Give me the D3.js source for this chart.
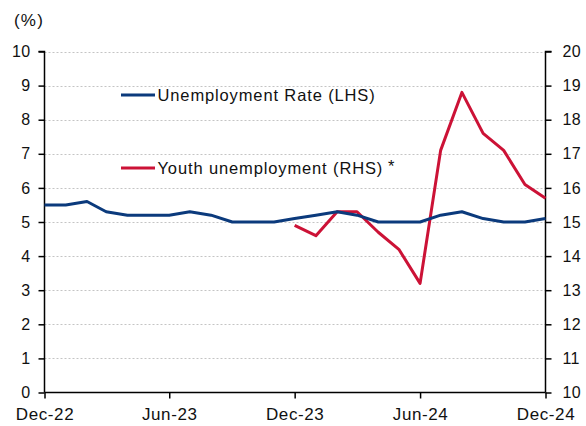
<!DOCTYPE html>
<html>
<head>
<meta charset="utf-8">
<script src="https://cdn.jsdelivr.net/npm/d3@7"></script>
<style>
  body { margin: 0; background: #fff; }
  svg { display: block; font-family: "Liberation Sans", Arial, sans-serif; }
</style>
</head>
<body>
<svg id="chart" width="586" height="426"></svg>
<script>
// Monthly series, Dec-22 through Dec-24
const months = ["2022-12","2023-01","2023-02","2023-03","2023-04","2023-05","2023-06",
  "2023-07","2023-08","2023-09","2023-10","2023-11","2023-12",
  "2024-01","2024-02","2024-03","2024-04","2024-05","2024-06",
  "2024-07","2024-08","2024-09","2024-10","2024-11","2024-12"];
const unemploymentRate = [5.5,5.5,5.6,5.3,5.2,5.2,5.2,5.3,5.2,5.0,5.0,5.0,5.1,
  5.2,5.3,5.2,5.0,5.0,5.0,5.2,5.3,5.1,5.0,5.0,5.1];
// Youth series starts Dec-23
const youthMonths = months.slice(12);
const youthUnemployment = [14.9,14.6,15.3,15.3,14.7,14.2,13.2,17.1,18.8,17.6,17.1,16.1,15.7];
const xTickLabels = ["Dec-22","Jun-23","Dec-23","Jun-24","Dec-24"];
const leftTicks = [0,1,2,3,4,5,6,7,8,9,10];
const rightTicks = [10,11,12,13,14,15,16,17,18,19,20];

const parse = d3.timeParse("%Y-%m");
const fmt = d3.timeFormat("%b-%y");
const svg = d3.select("#chart");
const m = { left: 44.5, right: 545.5, top: 51.5, bottom: 392.5 };

const x = d3.scaleTime()
  .domain([parse(months[0]), parse(months[months.length - 1])])
  .range([m.left, m.right]);
const yL = d3.scaleLinear().domain([0, 10]).range([m.bottom, m.top]);
const yR = d3.scaleLinear().domain([10, 20]).range([m.bottom, m.top]);

// Dotted gridlines
svg.append("g")
  .selectAll("line")
  .data(leftTicks.slice(1))
  .join("line")
  .attr("x1", m.left).attr("x2", m.right)
  .attr("y1", d => Math.round(yL(d)) + 0.5).attr("y2", d => Math.round(yL(d)) + 0.5)
  .attr("stroke", "#c4c4c4").attr("stroke-width", 1).attr("stroke-dasharray", "2,2");

const tickStyle = (size, spacing) => g => {
  g.selectAll("path, line").attr("stroke", "#000").attr("stroke-width", 1.5);
  g.selectAll("text").attr("fill", "#111").style("font-size", size)
    .style("letter-spacing", spacing);
};

svg.append("g")
  .attr("transform", `translate(${m.left},0)`)
  .call(d3.axisLeft(yL).tickValues(leftTicks).tickSize(6).tickPadding(8))
  .call(tickStyle("16px", "0.3px"))
  .call(g => g.select(".domain").attr("d", `M-6,${m.top}H0V${m.bottom}`));

svg.append("g")
  .attr("transform", `translate(${m.right},0)`)
  .call(d3.axisRight(yR).tickValues(rightTicks).tickSize(6).tickPadding(11))
  .call(tickStyle("16px", "0.3px"))
  .call(g => g.select(".domain").attr("d", `M6,${m.top}H0V${m.bottom}`));

svg.append("g")
  .attr("transform", `translate(0,${m.bottom})`)
  .call(d3.axisBottom(x)
    .tickValues(xTickLabels.map(s => d3.timeParse("%b-%y")(s)))
    .tickFormat(fmt).tickSize(6).tickSizeOuter(0).tickPadding(9))
  .call(tickStyle("17px", "0.6px"))
  .call(g => g.select(".domain").attr("d", `M${m.left},0H${m.right}`));

svg.append("text").attr("x", 14).attr("y", 25.5)
  .style("font-size", "17px").style("letter-spacing", "1.2px")
  .attr("fill", "#111").text("(%)");

const lineL = d3.line().x((d, i) => x(parse(months[i]))).y(d => yL(d));
const lineR = d3.line().x((d, i) => x(parse(youthMonths[i]))).y(d => yR(d));

const blue = "#0b3a7c", red = "#cc1236";

svg.append("path").datum(youthUnemployment).attr("d", lineR)
  .attr("fill", "none").attr("stroke", red).attr("stroke-width", 3).attr("stroke-linejoin", "round");
svg.append("path").datum(unemploymentRate).attr("d", lineL)
  .attr("fill", "none").attr("stroke", blue).attr("stroke-width", 3).attr("stroke-linejoin", "round");

// Legend
const legend = [
  { label: "Unemployment Rate (LHS)", color: blue, y: 95, mark: "" },
  { label: "Youth unemployment (RHS)", color: red, y: 168, mark: "*" }
];
const lg = svg.append("g").selectAll("g").data(legend).join("g");
lg.append("line").attr("x1", 121).attr("x2", 155)
  .attr("y1", d => d.y).attr("y2", d => d.y)
  .attr("stroke", d => d.color).attr("stroke-width", 3);
lg.append("text").attr("x", 157.5).attr("y", d => d.y + 6)
  .style("font-size", "16.5px").style("letter-spacing", "0.87px")
  .attr("fill", "#111").text(d => d.label);
lg.filter(d => d.mark).append("text")
  .attr("x", 388).attr("y", d => d.y + 4)
  .style("font-size", "16.5px").attr("fill", "#111").text(d => d.mark);
</script>
</body>
</html>
